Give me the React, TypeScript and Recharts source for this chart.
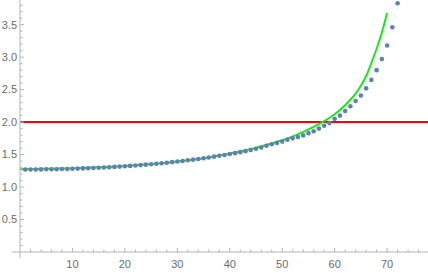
import React from "react";
import { ComposedChart, XAxis, YAxis, Scatter, Line, ReferenceLine } from "recharts";

const dotX = [1,2,3,4,5,6,7,8,9,10,11,12,13,14,15,16,17,18,19,20,21,22,23,24,25,26,27,28,29,30,31,32,33,34,35,36,37,38,39,40,41,42,43,44,45,46,47,48,49,50,51,52,53,54,55,56,57,58,59,60,61,62,63,64,65,66,67,68,69,70,71,72];
const dotY = [1.270,1.270,1.271,1.272,1.273,1.274,1.275,1.277,1.279,1.281,1.284,1.287,1.290,1.293,1.297,1.301,1.305,1.310,1.315,1.320,1.326,1.332,1.338,1.345,1.352,1.359,1.367,1.375,1.384,1.393,1.402,1.412,1.422,1.433,1.444,1.456,1.468,1.481,1.494,1.508,1.522,1.537,1.553,1.570,1.590,1.610,1.635,1.660,1.680,1.700,1.730,1.750,1.770,1.795,1.830,1.860,1.900,1.945,1.985,2.050,2.100,2.170,2.245,2.325,2.410,2.520,2.650,2.800,2.970,3.180,3.460,3.830];

const fitX = [0,5,10,15,20,25,30,35,40,45,50,52,54,56,58,60,62,63,64,65,66,67,68,69,70];
const fitY = [1.275,1.280,1.290,1.305,1.325,1.355,1.395,1.445,1.515,1.605,1.720,1.780,1.850,1.925,2.015,2.120,2.260,2.345,2.440,2.560,2.710,2.910,3.130,3.380,3.680];

const threshold = 2;

const xTicks = [2,4,6,8,10,12,14,16,18,20,22,24,26,28,30,32,34,36,38,40,42,44,46,48,50,52,54,56,58,60,62,64,66,68,70,72,74,76];
const xLabels = [10,20,30,40,50,60,70];
const yTicks = [0.1,0.2,0.3,0.4,0.5,0.6,0.7,0.8,0.9,1.0,1.1,1.2,1.3,1.4,1.5,1.6,1.7,1.8,1.9,2.0,2.1,2.2,2.3,2.4,2.5,2.6,2.7,2.8,2.9,3.0,3.1,3.2,3.3,3.4,3.5,3.6,3.7,3.8];
const yLabels = ["0.5","1.0","1.5","2.0","2.5","3.0","3.5"];

const dots = dotX.map((x, i) => ({ x, y: dotY[i] }));
const fit = fitX.map((x, i) => ({ x, y: fitY[i] }));

const AXIS = "#b3b3b3";
const LABEL = "#6b6b6b";
const FONT = "'Liberation Sans', Arial, sans-serif";

const XTick = (props: any) => {
  const { x, y, payload } = props;
  const major = xLabels.includes(payload.value);
  return (
    <g>
      <line x1={x} x2={x} y1={y} y2={y - (major ? 4 : 2.5)} stroke={AXIS} strokeWidth={1} />
      {major && (
        <text x={x} y={y + 16} textAnchor="middle" fill={LABEL} fontSize={11} fontFamily={FONT}>
          {payload.value}
        </text>
      )}
    </g>
  );
};

const YTick = (props: any) => {
  const { x, y, payload } = props;
  const lbl = yLabels.find((l) => Math.abs(parseFloat(l) - payload.value) < 1e-6);
  return (
    <g>
      <line x1={x} x2={x + (lbl ? 4 : 2.5)} y1={y} y2={y} stroke={AXIS} strokeWidth={1} />
      {lbl && (
        <text x={x - 3} y={y} dy="0.35em" textAnchor="end" fill={LABEL} fontSize={11} fontFamily={FONT}>
          {lbl}
        </text>
      )}
    </g>
  );
};

export default function App() {
  return (
    <div style={{ position: "absolute", left: 0, top: 0, width: 428, height: 273, background: "#fff" }}>
      <ComposedChart width={428} height={273} margin={{ top: 0, right: 0, bottom: 0, left: 0 }}>
        <XAxis
          type="number"
          dataKey="x"
          domain={[0, 77.8]}
          allowDataOverflow
          ticks={xTicks}
          interval={0}
          height={21}
          tickLine={false}
          tickSize={0}
          tickMargin={0}
          axisLine={{ stroke: AXIS }}
          tick={<XTick />}
        />
        <YAxis
          type="number"
          dataKey="y"
          domain={[0, 3.88]}
          allowDataOverflow
          ticks={yTicks}
          interval={0}
          width={20}
          tickLine={false}
          tickSize={0}
          tickMargin={0}
          axisLine={{ stroke: AXIS }}
          tick={<YTick />}
        />
        <ReferenceLine segment={[{ x: -1.6, y: 0 }, { x: 0, y: 0 }]} ifOverflow="visible" stroke={AXIS} />
        <ReferenceLine segment={[{ x: 0, y: 0 }, { x: 0, y: -0.09 }]} ifOverflow="visible" stroke={AXIS} />
        <ReferenceLine y={threshold} stroke="#ff0000" strokeWidth={2} />
        <Scatter
          data={dots}
          dataKey="y"
          isAnimationActive={false}
          shape={(p: any) => <circle cx={p.cx} cy={p.cy} r={2.3} fill="#5e81b5" />}
        />
        <Line
          data={fit}
          dataKey="y"
          type="monotone"
          stroke="#1ee61e"
          strokeWidth={2}
          dot={false}
          activeDot={false}
          isAnimationActive={false}
        />
      </ComposedChart>
    </div>
  );
}
